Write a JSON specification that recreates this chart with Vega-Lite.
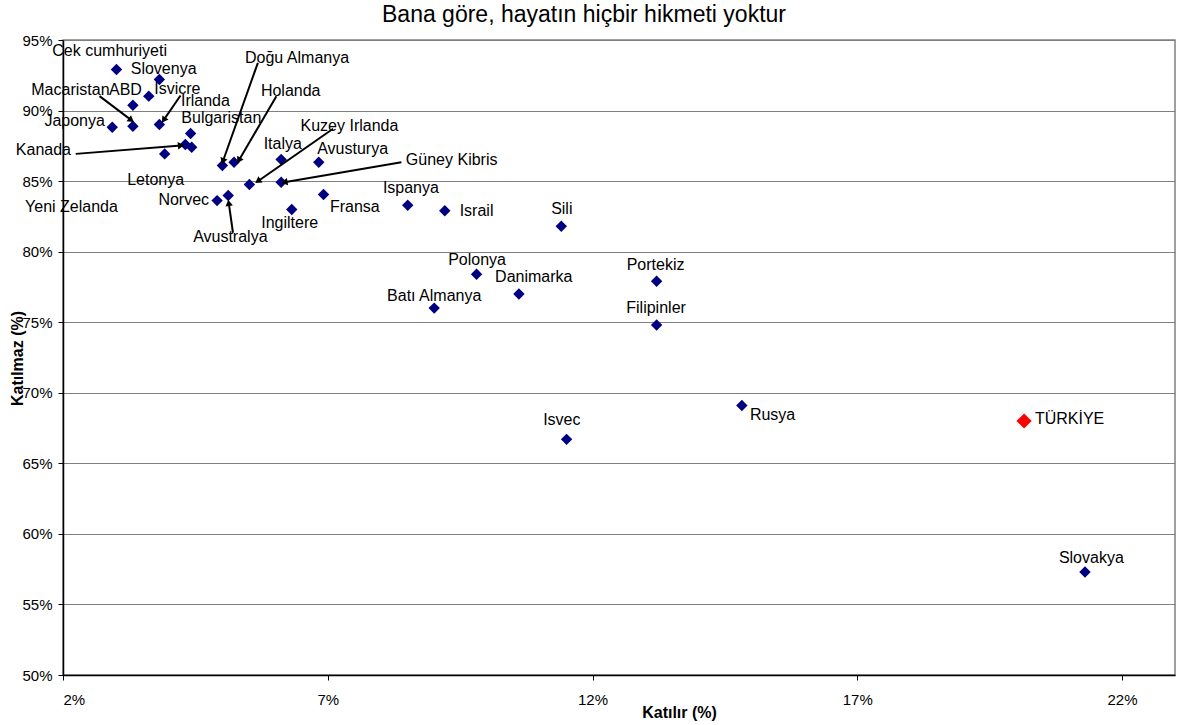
{
  "$schema": "https://vega.github.io/schema/vega-lite/v6.json",
  "width": 1112,
  "height": 635,
  "autosize": {"type": "none"},
  "padding": {"left": 63, "top": 40, "right": 3, "bottom": 50},
  "background": "white",
  "title": {"text": "Bana göre, hayatın hiçbir hikmeti yoktur", "font": "Liberation Sans", "fontSize": 23, "fontWeight": "normal", "color": "black", "anchor": "middle", "frame": "group", "dx": -35, "dy": 26, "baseline": "alphabetic", "offset": 14},
  "config": {
    "view": {"stroke": "#808080", "strokeWidth": 1.5},
    "axis": {"labelFont": "Liberation Sans", "titleFont": "Liberation Sans", "labelColor": "black", "titleColor": "black", "domainColor": "black", "domainWidth": 1.5, "tickColor": "black", "tickSize": 5, "labelFontSize": 15, "titleFontSize": 16, "titleFontWeight": "bold"}
  },
  "datasets": {
    "ulkeler": [
      {"ulke": "Cek cumhuriyeti", "katilir": 3.01, "katilmaz": 92.91, "lx": 2.88, "ly": 94.19},
      {"ulke": "Slovenya", "katilir": 3.82, "katilmaz": 92.2, "lx": 3.9, "ly": 92.98},
      {"ulke": "Isvicre", "katilir": 3.62, "katilmaz": 91.02, "lx": 4.16, "ly": 91.53},
      {"ulke": "ABD", "katilir": 3.32, "katilmaz": 90.38, "lx": 3.18, "ly": 91.49},
      {"ulke": "Macaristan", "katilir": 3.32, "katilmaz": 88.89, "lx": 2.14, "ly": 91.49},
      {"ulke": "Irlanda", "katilir": 3.82, "katilmaz": 89.01, "lx": 4.69, "ly": 90.66},
      {"ulke": "Japonya", "katilir": 2.93, "katilmaz": 88.82, "lx": 2.22, "ly": 89.25},
      {"ulke": "Bulgaristan", "katilir": 4.41, "katilmaz": 88.37, "lx": 4.99, "ly": 89.44},
      {"ulke": "Kanada", "katilir": 4.31, "katilmaz": 87.59, "lx": 1.63, "ly": 87.19},
      {"ulke": "Yeni Zelanda", "katilir": 4.43, "katilmaz": 87.4, "lx": 2.16, "ly": 83.2},
      {"ulke": "Letonya", "katilir": 3.92, "katilmaz": 86.93, "lx": 3.75, "ly": 85.11},
      {"ulke": "Doğu Almanya", "katilir": 5.01, "katilmaz": 86.11, "lx": 6.42, "ly": 93.69},
      {"ulke": "Holanda", "katilir": 5.23, "katilmaz": 86.34, "lx": 6.3, "ly": 91.37},
      {"ulke": "Italya", "katilir": 6.12, "katilmaz": 86.53, "lx": 6.15, "ly": 87.66},
      {"ulke": "Avusturya", "katilir": 6.83, "katilmaz": 86.34, "lx": 7.47, "ly": 87.31},
      {"ulke": "Kuzey Irlanda", "katilir": 5.52, "katilmaz": 84.76, "lx": 7.41, "ly": 88.89},
      {"ulke": "Güney Kibris", "katilir": 6.12, "katilmaz": 84.92, "lx": 9.34, "ly": 86.48},
      {"ulke": "Norvec", "katilir": 4.91, "katilmaz": 83.62, "lx": 4.28, "ly": 83.63},
      {"ulke": "Avustralya", "katilir": 5.12, "katilmaz": 83.98, "lx": 5.16, "ly": 81.07},
      {"ulke": "Ingiltere", "katilir": 6.32, "katilmaz": 82.99, "lx": 6.28, "ly": 82.0},
      {"ulke": "Fransa", "katilir": 6.92, "katilmaz": 84.05, "lx": 7.51, "ly": 83.15},
      {"ulke": "Ispanya", "katilir": 8.51, "katilmaz": 83.29, "lx": 8.57, "ly": 84.48},
      {"ulke": "Israil", "katilir": 9.21, "katilmaz": 82.9, "lx": 9.81, "ly": 82.87},
      {"ulke": "Sili", "katilir": 11.41, "katilmaz": 81.8, "lx": 11.42, "ly": 82.99},
      {"ulke": "Polonya", "katilir": 9.81, "katilmaz": 78.4, "lx": 9.82, "ly": 79.44},
      {"ulke": "Danimarka", "katilir": 10.61, "katilmaz": 77.0, "lx": 10.89, "ly": 78.17},
      {"ulke": "Batı Almanya", "katilir": 9.01, "katilmaz": 76.0, "lx": 9.01, "ly": 76.89},
      {"ulke": "Portekiz", "katilir": 13.21, "katilmaz": 77.9, "lx": 13.19, "ly": 79.09},
      {"ulke": "Filipinler", "katilir": 13.21, "katilmaz": 74.8, "lx": 13.2, "ly": 76.04},
      {"ulke": "Rusya", "katilir": 14.82, "katilmaz": 69.1, "lx": 15.4, "ly": 68.41},
      {"ulke": "Isvec", "katilir": 11.51, "katilmaz": 66.7, "lx": 11.42, "ly": 68.1},
      {"ulke": "TÜRKİYE", "katilir": 20.15, "katilmaz": 68.0, "lx": 21.01, "ly": 68.17},
      {"ulke": "Slovakya", "katilir": 21.3, "katilmaz": 57.3, "lx": 21.42, "ly": 58.32}
    ],
    "oklar": [
      {"ulke": "Macaristan", "x1": 2.69, "y1": 91.02, "x2": 3.29, "y2": 89.32},
      {"ulke": "Irlanda", "x1": 4.22, "y1": 91.07, "x2": 3.9, "y2": 89.32},
      {"ulke": "Kanada", "x1": 2.24, "y1": 86.93, "x2": 4.23, "y2": 87.52},
      {"ulke": "Doğu Almanya", "x1": 5.68, "y1": 93.38, "x2": 5.02, "y2": 86.41},
      {"ulke": "Holanda", "x1": 6.03, "y1": 91.02, "x2": 5.32, "y2": 86.46},
      {"ulke": "Kuzey Irlanda", "x1": 7.1, "y1": 88.71, "x2": 5.68, "y2": 84.99},
      {"ulke": "Güney Kibris", "x1": 8.39, "y1": 86.34, "x2": 6.18, "y2": 84.92},
      {"ulke": "Avustralya", "x1": 5.21, "y1": 81.34, "x2": 5.13, "y2": 83.46}
    ]
  },
  "layer": [
    {
      "data": {"name": "ulkeler"},
      "mark": {"type": "point", "shape": "diamond", "filled": true, "opacity": 1},
      "encoding": {
        "x": {"field": "katilir", "type": "quantitative", "scale": {"domain": [2, 23], "nice": false, "zero": false},
          "axis": {"values": [2, 7, 12, 17, 22], "labelExpr": "datum.value + '%'", "grid": false, "labelPadding": 12, "title": "Katılır (%)", "titleX": 616, "titleY": 37, "titleBaseline": "middle", "titleAlign": "center"}},
        "y": {"field": "katilmaz", "type": "quantitative", "scale": {"domain": [50, 95], "nice": false, "zero": false},
          "axis": {"values": [50, 55, 60, 65, 70, 75, 80, 85, 90, 95], "labelExpr": "datum.value + '%'", "grid": true, "gridColor": "#808080", "gridWidth": 1, "labelPadding": 6, "title": "Katılmaz (%)", "titleX": -46, "titleY": 318, "titleBaseline": "middle", "titleAlign": "center", "titleAngle": -90}},
        "color": {"condition": {"test": "datum.ulke === 'TÜRKİYE'", "value": "#FF0000"}, "value": "#000080"},
        "size": {"condition": {"test": "datum.ulke === 'TÜRKİYE'", "value": 230}, "value": 130}
      }
    },
    {
      "data": {"name": "oklar"},
      "mark": {"type": "rule", "color": "black", "strokeWidth": 2},
      "encoding": {
        "x": {"field": "x1", "type": "quantitative", "scale": {"domain": [2, 23], "nice": false, "zero": false}},
        "y": {"field": "y1", "type": "quantitative", "scale": {"domain": [50, 95], "nice": false, "zero": false}},
        "x2": {"field": "x2"},
        "y2": {"field": "y2"}
      }
    },
    {
      "data": {"name": "oklar"},
      "transform": [{"calculate": "atan2((datum.x2 - datum.x1) * 52.95, (datum.y2 - datum.y1) * 14.11) * 180 / PI", "as": "aci"}],
      "mark": {"type": "point", "shape": "triangle-up", "filled": true, "color": "black", "opacity": 1, "size": 55},
      "encoding": {
        "x": {"field": "x2", "type": "quantitative", "scale": {"domain": [2, 23], "nice": false, "zero": false}},
        "y": {"field": "y2", "type": "quantitative", "scale": {"domain": [50, 95], "nice": false, "zero": false}},
        "angle": {"field": "aci", "type": "quantitative", "scale": null}
      }
    },
    {
      "data": {"name": "ulkeler"},
      "mark": {"type": "text", "font": "Liberation Sans", "fontSize": 16, "color": "black", "align": "center", "baseline": "middle"},
      "encoding": {
        "x": {"field": "lx", "type": "quantitative", "scale": {"domain": [2, 23], "nice": false, "zero": false}},
        "y": {"field": "ly", "type": "quantitative", "scale": {"domain": [50, 95], "nice": false, "zero": false}},
        "text": {"field": "ulke"}
      }
    }
  ]
}
